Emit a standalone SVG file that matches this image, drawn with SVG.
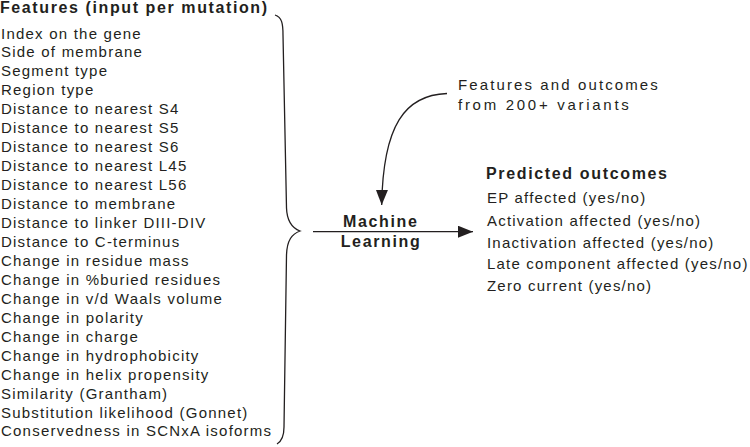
<svg xmlns="http://www.w3.org/2000/svg" width="750" height="447" viewBox="0 0 750 447">
<style>
text{font-family:"Liberation Sans",Arial,sans-serif;fill:#231f20}
.r{font-size:15px;letter-spacing:1.22px}
.o{font-size:15px;letter-spacing:1.2px}
.b{font-size:16px;font-weight:bold;letter-spacing:1.65px}
.ln{fill:none;stroke:#231f20;stroke-width:1.3}
</style>
<defs>
<marker id="ah" markerWidth="16" markerHeight="12" refX="15" refY="6" orient="auto" markerUnits="userSpaceOnUse">
<path d="M0,0 L15,6 L0,12 Z" fill="#231f20"/>
</marker>
</defs>
<rect width="750" height="447" fill="#fff"/>
<g id="features">
<text class="b" x="0" y="13" style="letter-spacing:1.6px">Features (input per mutation)</text>
<text class="r" x="1" y="38.5">Index on the gene</text>
<text class="r" x="1" y="57.45">Side of membrane</text>
<text class="r" x="1" y="76.4">Segment type</text>
<text class="r" x="1" y="95.35">Region type</text>
<text class="r" x="1" y="114.3">Distance to nearest S4</text>
<text class="r" x="1" y="133.25">Distance to nearest S5</text>
<text class="r" x="1" y="152.2">Distance to nearest S6</text>
<text class="r" x="1" y="171.15">Distance to nearest L45</text>
<text class="r" x="1" y="190.1">Distance to nearest L56</text>
<text class="r" x="1" y="209.05">Distance to membrane</text>
<text class="r" x="1" y="228">Distance to linker DIII-DIV</text>
<text class="r" x="1" y="246.95">Distance to C-terminus</text>
<text class="r" x="1" y="265.9">Change in residue mass</text>
<text class="r" x="1" y="284.85">Change in %buried residues</text>
<text class="r" x="1" y="303.8">Change in v/d Waals volume</text>
<text class="r" x="1" y="322.75">Change in polarity</text>
<text class="r" x="1" y="341.7">Change in charge</text>
<text class="r" x="1" y="360.65">Change in hydrophobicity</text>
<text class="r" x="1" y="379.6">Change in helix propensity</text>
<text class="r" x="1" y="398.55">Similarity (Grantham)</text>
<text class="r" x="1" y="417.5">Substitution likelihood (Gonnet)</text>
<text class="r" x="1" y="436.45">Conservedness in SCNxA isoforms</text>
</g>
<g id="brace">
<path class="ln" stroke-width="1.2" d="M275,15 C282,17 283,24 283,35 L286.5,208 C287,222 292,228 300,231 C292,234 287,240 286.5,255 L284,427 C284,436 282,441 277,444"/>
</g>
<g id="ml">
<text class="b" x="343" y="227">Machine</text>
<text class="b" x="340.7" y="247">Learning</text>
</g>
<g id="training">
<text class="o" x="458" y="90.3" textLength="201" lengthAdjust="spacing">Features and outcomes</text>
<text class="o" x="458" y="109.8" textLength="172" lengthAdjust="spacing">from 200+ variants</text>
</g>
<g id="outcomes">
<text class="b" x="486" y="179.3">Predicted outcomes</text>
<text class="o" x="487" y="203.3">EP affected (yes/no)</text>
<text class="o" x="487" y="225.5">Activation affected (yes/no)</text>
<text class="o" x="487" y="247.5">Inactivation affected (yes/no)</text>
<text class="o" x="487" y="269.3">Late component affected (yes/no)</text>
<text class="o" x="487" y="291">Zero current (yes/no)</text>
</g>
<g id="connectors">
<path class="ln" d="M313,231.7 H473" marker-end="url(#ah)"/>
<path class="ln" d="M447,93.5 C405,95 383,125 381.7,205" marker-end="url(#ah)"/>
</g>
</svg>
